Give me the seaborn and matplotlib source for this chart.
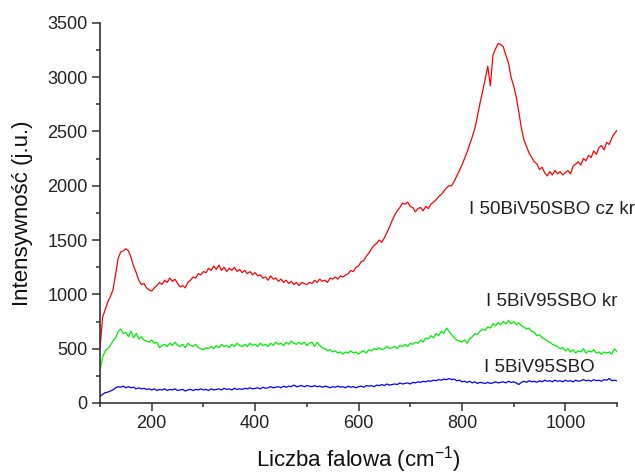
import numpy as np
import pandas as pd
import matplotlib
matplotlib.use("Agg")
import matplotlib.pyplot as plt
from matplotlib.ticker import MultipleLocator
import seaborn as sns

wavenumber = list(range(100, 1101, 5))

red_50BiV50SBO_cz_kr = [
    500, 790, 860, 930, 980, 1040, 1180, 1330, 1390, 1400,
    1420, 1400, 1340, 1260, 1200, 1130, 1090, 1100, 1060, 1040,
    1030, 1060, 1080, 1110, 1090, 1130, 1110, 1150, 1120, 1140,
    1100, 1070, 1080, 1060, 1110, 1130, 1160, 1150, 1190, 1180,
    1210, 1200, 1240, 1220, 1260, 1230, 1270, 1220, 1250, 1210,
    1240, 1220, 1250, 1210, 1230, 1200, 1220, 1190, 1210, 1180,
    1200, 1170, 1180, 1150, 1160, 1130, 1170, 1140, 1150, 1120,
    1140, 1110, 1130, 1100, 1120, 1090, 1110, 1080, 1110, 1100,
    1090, 1110, 1100, 1130, 1110, 1140, 1120, 1130, 1110, 1150,
    1140, 1160, 1140, 1170, 1160, 1180, 1190, 1220, 1210, 1250,
    1260, 1300, 1310, 1350, 1380, 1420, 1450, 1470, 1500, 1480,
    1520, 1570, 1620, 1680, 1730, 1770, 1800, 1840, 1830, 1850,
    1810, 1800, 1760, 1790, 1800, 1770, 1810, 1790, 1830, 1850,
    1870, 1900, 1920, 1950, 1980, 2000, 2000, 2040, 2090, 2140,
    2190, 2250, 2310, 2380, 2450, 2530, 2640, 2760, 2870, 2980,
    3100, 2920, 3200, 3260, 3310, 3300, 3280, 3200, 3130, 3000,
    2920, 2820, 2680, 2530, 2420, 2360, 2300, 2260, 2220, 2200,
    2150, 2170, 2120, 2090, 2130, 2100, 2140, 2110, 2130, 2100,
    2120, 2140, 2110, 2180, 2200, 2220, 2190, 2250, 2230, 2280,
    2260, 2320, 2290, 2350, 2370, 2330, 2400, 2380, 2440, 2480,
    2510,
]

green_5BiV95SBO_kr = [
    300, 420, 480, 500, 530, 570, 600, 660, 680, 640,
    650, 610, 660, 600, 640, 590, 610, 580, 570, 560,
    580, 550, 560, 510, 530, 540, 520, 550, 530, 560,
    530, 520, 540, 510, 550, 530, 520, 540, 510, 500,
    490, 510, 500, 520, 500, 530, 510, 540, 520, 530,
    510, 540, 520, 550, 530, 520, 540, 520, 550, 530,
    540, 520, 550, 530, 540, 520, 550, 530, 560, 540,
    550, 530, 560, 540, 570, 550, 540, 560, 540, 560,
    530, 550, 560, 520, 560, 530, 510, 500, 480, 490,
    470, 480, 460, 470, 450, 470, 460, 480, 460, 470,
    450, 470, 480, 460, 490, 480, 500, 490, 510, 490,
    500, 520, 500, 510, 520, 500, 530, 520, 540, 520,
    550, 540, 560, 550, 580, 560, 600, 590, 620, 600,
    640, 620, 660, 640, 690, 660, 630, 600, 580, 570,
    560, 580, 550, 590, 610, 640, 630, 660, 680, 670,
    700, 690, 730, 710, 740, 720, 750, 730, 760, 730,
    750, 720, 740, 710, 700, 680, 690, 660, 650, 620,
    630, 600, 590, 570, 560, 540, 530, 520, 500, 510,
    480, 500, 470, 490, 460, 480, 470, 500, 460, 480,
    470, 490, 460, 470, 450, 470, 460, 470, 450, 500,
    470,
]

blue_5BiV95SBO = [
    60, 80, 95, 100, 110, 120, 140, 150, 145, 155,
    140, 150, 140, 145, 130, 140, 130, 135, 125, 130,
    120, 130, 115, 125, 120, 130, 115, 125, 120, 130,
    115, 120, 125, 110, 120, 125, 115, 125, 120, 130,
    120, 125, 115, 130, 120, 125, 130, 120, 135, 125,
    130, 120, 135, 125, 130, 125, 135, 130, 140, 130,
    135, 140, 130, 145, 135, 140, 150, 140, 145, 150,
    140, 155, 145, 155, 150, 165, 150, 155, 160, 150,
    160, 155, 150, 160, 150, 155, 145, 155, 150, 140,
    150, 145, 155, 145, 150, 140, 155, 145, 150, 140,
    150, 155, 145, 160, 155, 160, 150, 165, 160, 170,
    160, 175, 165, 170, 175, 170, 185, 175, 180, 185,
    175, 190, 185, 195, 190, 200, 195, 205, 200, 210,
    205, 215, 210, 220, 215, 225, 215, 220, 205, 210,
    195, 200, 190, 200, 185, 195, 180, 190, 185, 180,
    190, 180, 185, 195, 185, 190, 195, 185, 200, 190,
    195, 185, 170, 190, 200, 190, 205, 195, 200, 190,
    205, 195, 210, 200, 205, 195, 210, 200, 205, 195,
    210, 200, 205, 195, 210, 200, 205, 215, 205, 210,
    200, 215, 205, 210, 200, 215, 210, 225, 205, 210,
    205,
]

series_labels = ["I 50BiV50SBO cz kr", "I 5BiV95SBO kr", "I 5BiV95SBO"]
series_colors = ["#ff0000", "#00ee00", "#0000ff"]
x_ticks = [200, 400, 600, 800, 1000]
y_ticks = [0, 500, 1000, 1500, 2000, 2500, 3000, 3500]

df = pd.DataFrame({
    "x": wavenumber * 3,
    "y": red_50BiV50SBO_cz_kr + green_5BiV95SBO_kr + blue_5BiV95SBO,
    "series": [series_labels[0]] * len(wavenumber)
    + [series_labels[1]] * len(wavenumber)
    + [series_labels[2]] * len(wavenumber),
})

sns.set_style("ticks")
plt.rcParams["font.family"] = ["Liberation Sans", "DejaVu Sans"]
plt.rcParams["mathtext.fontset"] = "custom"
plt.rcParams["mathtext.rm"] = "Liberation Sans"
plt.rcParams["mathtext.it"] = "Liberation Sans:italic"

fig = plt.figure(figsize=(6.35, 4.75), dpi=100)
ax = fig.add_axes([0.1575, 0.1516, 0.8142, 0.8004])

sns.lineplot(data=df, x="x", y="y", hue="series", palette=series_colors,
             hue_order=series_labels, linewidth=0.9, legend=False, ax=ax,
             estimator=None, sort=False)

ax.set_xlim(100, 1100)
ax.set_ylim(0, 3500)
ax.set_xticks(x_ticks)
ax.set_yticks(y_ticks)
ax.xaxis.set_minor_locator(MultipleLocator(100))
ax.yaxis.set_minor_locator(MultipleLocator(250))
ax.tick_params(axis="both", which="major", direction="out", length=6, width=1.1,
               labelsize=13, pad=3, color="#333333", labelcolor="#222222")
ax.tick_params(axis="both", which="minor", direction="out", length=3, width=1.1,
               color="#333333")
for side in ["top", "right"]:
    ax.spines[side].set_visible(False)
for side in ["left", "bottom"]:
    ax.spines[side].set_linewidth(1.2)
    ax.spines[side].set_color("#333333")

ax.set_xlabel("Liczba falowa (cm$^{-1}$)", fontsize=16, color="#111111", labelpad=8)
ax.set_ylabel("Intensywność (j.u.)", fontsize=16, color="#111111", labelpad=10)

ax.text(814, 1777, series_labels[0], fontsize=13.5, va="center", ha="left", color="#222222")
ax.text(847, 930, series_labels[1], fontsize=13.5, va="center", ha="left", color="#222222")
ax.text(843, 331, series_labels[2], fontsize=13.5, va="center", ha="left", color="#222222")

fig.savefig("out.png", dpi=100)
